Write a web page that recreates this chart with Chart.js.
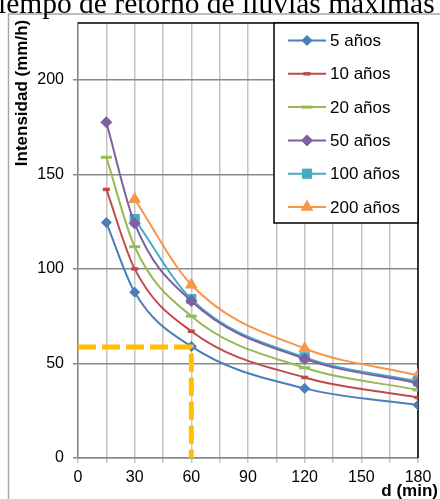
<!DOCTYPE html>
<html>
<head>
<meta charset="utf-8">
<script src="https://cdn.jsdelivr.net/npm/chart.js@4/dist/chart.umd.min.js"></script>
<style>
  html, body { margin: 0; padding: 0; background: #fff; overflow: hidden; }
  canvas { display: block; }
</style>
</head>
<body>
<canvas id="idf-chart" width="440" height="499"></canvas>
<script>
// Curvas IDF
const durations = [15, 30, 60, 120, 180];
const seriesNames = ['5 años', '10 años', '20 años', '50 años', '100 años', '200 años'];
const i5 = [124.5, 87.7, 59, 36.8, 28];
const i10 = [142, 100, 67, 42.6, 32];
const i20 = [159, 111.7, 75, 47.7, 36];
const i50 = [177.5, 124, 83, 52.5, 39.5];
const i100 = [null, 126.3, 84, 53.2, 40.5];
const i200 = [null, 136.8, 91.6, 57.9, 43.8];
const refX = [0, 60, 60];
const refY = [58.7, 58.7, 0];
const xTicks = [0, 30, 60, 90, 120, 150, 180];
const yTicks = [0, 50, 100, 150, 200];

const colors = ['#4A7EBB', '#BE4B48', '#98B954', '#7D60A0', '#46AAC5', '#F79646'];
const markers = [
    { style: 'rectRot', radius: 5, border: 1 },
    { style: 'line', radius: 3.5, border: 3.5 },
    { style: 'line', radius: 5.5, border: 3 },
    { style: 'rectRot', radius: 5.5, border: 1 },
    { style: 'rect', radius: 6.5, border: 1 },
    { style: 'triangle', radius: 6.5, border: 1 }
];
const allValues = [i5, i10, i20, i50, i100, i200];

function toPoints(xs, ys) {
    return xs.map((x, i) => ({ x: x, y: ys[i] })).filter(p => p.y !== null);
}

const datasets = [{
    label: 'ref',
    data: toPoints(refX, refY),
    borderColor: '#FFC000',
    borderWidth: 5,
    borderDash: [18, 6],
    pointRadius: 0,
    tension: 0,
    order: -1
}];
allValues.forEach(function(vals, k) {
    datasets.push({
        label: seriesNames[k],
        data: toPoints(durations, vals),
        borderColor: colors[k],
        backgroundColor: colors[k],
        borderWidth: 2,
        cubicInterpolationMode: 'monotone',
        pointStyle: markers[k].style,
        pointRadius: markers[k].radius,
        pointBorderWidth: markers[k].border,
        pointBackgroundColor: colors[k],
        pointBorderColor: colors[k]
    });
});

function drawMarker(ctx, style, x, y, r) {
    ctx.beginPath();
    if (style === 'rectRot') {
        ctx.moveTo(x, y - r); ctx.lineTo(x + r, y); ctx.lineTo(x, y + r); ctx.lineTo(x - r, y);
        ctx.closePath(); ctx.fill(); ctx.stroke();
    } else if (style === 'rect') {
        const s = r * Math.SQRT1_2;
        ctx.rect(x - s, y - s, 2 * s, 2 * s); ctx.fill(); ctx.stroke();
    } else if (style === 'triangle') {
        ctx.moveTo(x, y - r); ctx.lineTo(x + r * 0.87, y + r * 0.5); ctx.lineTo(x - r * 0.87, y + r * 0.5);
        ctx.closePath(); ctx.fill(); ctx.stroke();
    } else {
        ctx.moveTo(x - r, y); ctx.lineTo(x + r, y); ctx.stroke();
    }
}

// frame, titles, plot border and the legend box inside the plot
const decorations = {
    id: 'decorations',
    beforeDraw(chart) {
        const ctx = chart.ctx;
        ctx.save();
        ctx.strokeStyle = '#A6A6A6';
        ctx.lineWidth = 1.5;
        ctx.beginPath();
        ctx.moveTo(8.5, 499); ctx.lineTo(8.5, 14); ctx.lineTo(440, 14);
        ctx.stroke();
        ctx.fillStyle = '#000';
        ctx.font = '29.5px "Liberation Serif", "Times New Roman", serif';
        ctx.textAlign = 'left';
        ctx.textBaseline = 'alphabetic';
        ctx.fillText('Tiempo de retorno de lluvias máximas', -19, 12.5);
        ctx.restore();
    },
    beforeDatasetsDraw(chart) {
        const ctx = chart.ctx, a = chart.chartArea;
        ctx.save();
        ctx.strokeStyle = '#000';
        ctx.lineWidth = 1.5;
        ctx.beginPath();
        ctx.moveTo(a.left, a.top); ctx.lineTo(a.right, a.top); ctx.lineTo(a.right, a.bottom);
        ctx.stroke();
        ctx.restore();
    },
    afterDraw(chart) {
        const ctx = chart.ctx, a = chart.chartArea;
        ctx.save();
        // axis titles
        ctx.fillStyle = '#000';
        ctx.font = 'bold 17px "Liberation Sans", Arial, sans-serif';
        ctx.textAlign = 'right';
        ctx.textBaseline = 'middle';
        ctx.fillText('d (min)', 438, 491);
        ctx.translate(22, 93);
        ctx.rotate(-Math.PI / 2);
        ctx.textAlign = 'center';
        ctx.fillText('Intensidad (mm/h)', 0, 0);
        ctx.restore();

        // legend
        ctx.save();
        const lx = 274, ly = a.top, lw = a.right - 274, lh = 200;
        ctx.fillStyle = '#fff';
        ctx.fillRect(lx, ly, lw, lh);
        ctx.strokeStyle = '#000';
        ctx.lineWidth = 1.5;
        ctx.strokeRect(lx, ly, lw, lh);
        ctx.font = '17px "Liberation Sans", Arial, sans-serif';
        ctx.textAlign = 'left';
        ctx.textBaseline = 'middle';
        seriesNames.forEach(function(name, k) {
            const y = 40.5 + k * 33.3;
            ctx.strokeStyle = colors[k];
            ctx.fillStyle = colors[k];
            ctx.lineWidth = 2;
            ctx.beginPath();
            ctx.moveTo(288, y); ctx.lineTo(326, y);
            ctx.stroke();
            ctx.lineWidth = markers[k].border;
            drawMarker(ctx, markers[k].style, 307, y, markers[k].radius);
            ctx.fillStyle = '#000';
            ctx.fillText(name, 330, y + 1);
        });
        ctx.restore();
    }
};

new Chart(document.getElementById('idf-chart').getContext('2d'), {
    type: 'line',
    data: { datasets: datasets },
    options: {
        responsive: false,
        animation: false,
        layout: { padding: { top: 23, right: 22, left: 0, bottom: 0 } },
        plugins: {
            legend: { display: false },
            tooltip: { enabled: false },
            title: { display: false }
        },
        scales: {
            x: {
                type: 'linear',
                min: 0,
                max: 180,
                afterFit(scale) { scale.height = 41; },
                ticks: {
                    stepSize: 15,
                    padding: 5,
                    autoSkip: false,
                    maxRotation: 0,
                    minRotation: 0,
                    color: '#000',
                    font: { family: '"Liberation Sans", Arial, sans-serif', size: 16 },
                    callback: v => xTicks.includes(v) ? v : ''
                },
                grid: { color: '#C4C4C4', lineWidth: 1.5, tickLength: 5 },
                border: { color: '#898989', width: 1.5 }
            },
            y: {
                min: 0,
                max: 230,
                afterFit(scale) { scale.width = 78; },
                afterBuildTicks(scale) {
                    scale.ticks = yTicks.map(v => ({ value: v }));
                },
                ticks: {
                    padding: 9,
                    color: '#000',
                    font: { family: '"Liberation Sans", Arial, sans-serif', size: 16 }
                },
                grid: { color: '#898989', lineWidth: 1.5, tickLength: 5 },
                border: { color: '#898989', width: 1.5 }
            }
        }
    },
    plugins: [decorations]
});
</script>
</body>
</html>
